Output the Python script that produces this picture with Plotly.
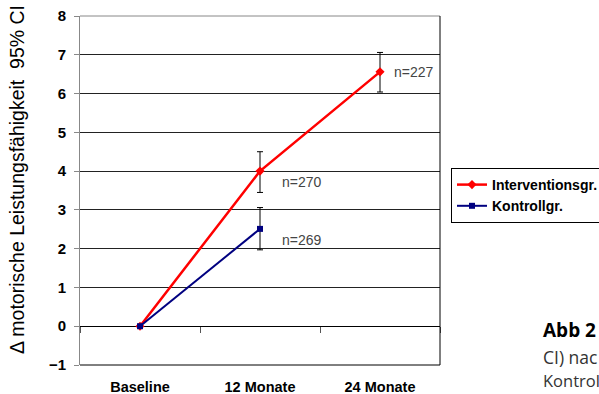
import plotly.graph_objects as go

categories = ["Baseline", "12 Monate", "24 Monate"]
interv_vals = [0, 4.0, 6.56]
interv_upper = [0, 0.50, 0.50]
interv_lower = [0, 0.55, 0.52]
ctrl_cats = ["Baseline", "12 Monate"]
ctrl_vals = [0, 2.51]
ctrl_upper = [0, 0.55]
ctrl_lower = [0, 0.54]
n_labels = [("12 Monate", 3.71, "n=270"), ("12 Monate", 2.22, "n=269"), ("24 Monate", 6.55, "n=227")]
y_ticks = list(range(-1, 9))

W, H = 599, 394
L, R, T, B = 80, 159, 16, 29
pw = W - L - R
ph = H - T - B

fig = go.Figure()
fig.add_trace(go.Scatter(
    x=categories, y=interv_vals, mode="lines+markers", name="Interventionsgr.",
    line=dict(color="#FF0000", width=2.5),
    marker=dict(symbol="diamond", size=7, color="#FF0000"),
    error_y=dict(type="data", array=interv_upper, arrayminus=interv_lower,
                 color="#000000", thickness=1, width=3, visible=True),
))
fig.add_trace(go.Scatter(
    x=ctrl_cats, y=ctrl_vals, mode="lines+markers", name="Kontrollgr.",
    line=dict(color="#000080", width=2),
    marker=dict(symbol="square", size=6, color="#000080"),
    error_y=dict(type="data", array=ctrl_upper, arrayminus=ctrl_lower,
                 color="#000000", thickness=1, width=3, visible=True),
))
# invisible trace for the zero-crossing category axis (tick marks on the 0 line)
fig.add_trace(go.Scatter(x=categories, y=[None] * 3, xaxis="x2", showlegend=False,
                         hoverinfo="skip", mode="markers"))

for cat, yv, txt in n_labels:
    fig.add_annotation(x=cat, y=yv, text=txt, showarrow=False, xanchor="left",
                       xshift=12 if cat == "24 Monate" else 20,
                       font=dict(family="Arial", size=14, color="#444444"))

# Y title
fig.add_annotation(xref="paper", yref="paper", x=(17 - L) / pw, y=(H - B - 180) / ph,
                   xanchor="center", yanchor="middle",
                   text="Δ motorische Leistungsfähigkeit&nbsp;&nbsp;95% CI",
                   textangle=-90, showarrow=False,
                   font=dict(family="Arial", size=19.5, color="#000000"))

# caption fragments on the right (cut off at the right edge, as in the source)
for txt, ypix, bold, size in [("<b>Abb 2</b>", 330, True, 19), ("CI) nac", 357, False, 17.5),
                              ("Kontrol", 381, False, 16.5)]:
    fig.add_annotation(xref="paper", yref="paper", x=(541 - L) / pw, y=(H - B - ypix) / ph,
                       text=txt, showarrow=False, xanchor="left", yanchor="middle",
                       font=dict(family="Open Sans", size=size,
                                 color="#000000" if bold else "#333333"))

# plot frame
fig.add_shape(type="line", xref="paper", yref="paper", x0=0, x1=1, y0=1, y1=1,
              line=dict(color="#888888", width=1))
fig.add_shape(type="line", xref="paper", yref="paper", x0=1, x1=1, y0=0, y1=1,
              line=dict(color="#000000", width=1))
fig.add_shape(type="line", xref="paper", yref="paper", x0=0, x1=1, y0=0, y1=0,
              line=dict(color="#000000", width=1))

fig.update_layout(
    width=W, height=H,
    margin=dict(l=L, r=R, t=T, b=B, autoexpand=False),
    paper_bgcolor="white", plot_bgcolor="white",
    showlegend=True,
    legend=dict(xref="container", yref="container", x=451 / W, y=1 - 168 / H,
                xanchor="left", yanchor="top",
                bordercolor="#000000", borderwidth=1, bgcolor="white",
                font=dict(family="Arial", size=14, color="#000000", weight="bold"),
                itemwidth=30, tracegroupgap=0),
    xaxis=dict(type="category", categoryorder="array", categoryarray=categories,
               range=[-0.5, 2.5], showgrid=False, zeroline=False, showline=False,
               automargin=False, ticks="",
               tickfont=dict(family="Arial", size=14.5, color="#000000", weight="bold"),
               ticklabelstandoff=11),
    xaxis2=dict(type="category", categoryorder="array", categoryarray=categories,
                range=[-0.5, 2.5], overlaying="x", anchor="free", automargin=False,
                position=1 / 9, showgrid=False, zeroline=False, showline=False,
                showticklabels=False, ticks="outside", tickson="boundaries",
                ticklen=6, tickcolor="#555555", tickwidth=1),
    yaxis=dict(range=[-1, 8], tickvals=y_ticks, showgrid=True, gridcolor="#222222",
               gridwidth=1, zeroline=True, zerolinecolor="#000000", zerolinewidth=1,
               showline=True, linecolor="#888888", linewidth=1, automargin=False,
               ticks="outside", ticklen=5, tickcolor="#888888",
               tickfont=dict(family="Arial", size=15, color="#000000", weight="bold"),
               ticklabelstandoff=5),
)

fig.write_html("out.html", config={"displayModeBar": False},
               post_script="document.body.style.margin='0px';")
